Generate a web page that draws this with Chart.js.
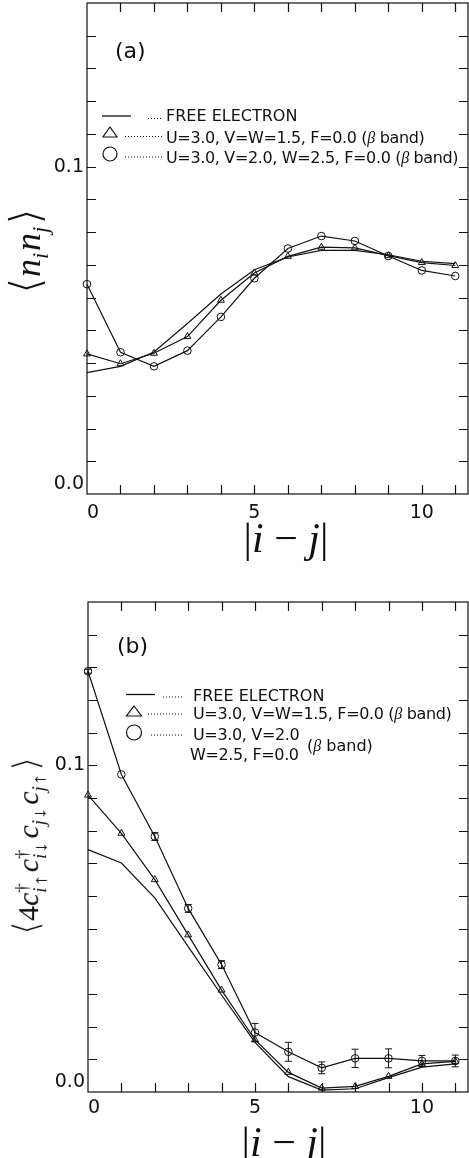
<!DOCTYPE html>
<html>
<head>
<meta charset="utf-8">
<script src="https://cdn.jsdelivr.net/npm/chart.js@4.4.1/dist/chart.umd.min.js"></script>
<style>
  html, body { margin: 0; padding: 0; background: #fff; }
  body { width: 469px; height: 1158px; position: relative; overflow: hidden;
         font-family: 'DejaVu Sans', sans-serif; color: #111; }
  .panel { position: absolute; left: 0; width: 469px; }
  .panel canvas { position: absolute; left: 0; top: 0; }
  .t { position: absolute; white-space: nowrap; font-size: 16px; line-height: 16px; }
  .eq { letter-spacing: -0.35px; }
  .tag { position: absolute; white-space: nowrap; font-size: 22px; line-height: 22px; }
  .mi { font-family: 'Liberation Serif', serif; font-style: italic; }
  .xt { position: absolute; transform: translate(-50%, -50%); white-space: nowrap;
        font-family: 'Liberation Serif', serif; font-size: 42px; line-height: 42px; }
  .xt i { font-style: italic; }
  .yt { position: absolute; transform: translate(-50%, -50%) rotate(-90deg); white-space: nowrap;
        font-family: 'Liberation Serif', serif; line-height: 1; }
  .yt i { font-style: italic; }
  .br { font-family: 'DejaVu Sans', sans-serif; font-size: 1.2em; font-weight: 200;
        -webkit-text-stroke: 1.2px #fff; paint-order: stroke fill; }
  .br { paint-order: normal; }
  .sub { font-size: 0.62em; vertical-align: -0.35em; padding-right: 0.08em; }
  .ss { display: inline-flex; flex-direction: column; align-items: flex-start;
        font-size: 0.62em; line-height: 1.0; vertical-align: middle; padding-right: 0.08em; }
  .ss > span { display: block; }
  .ar { display: inline-block; transform: scaleX(1.3); margin: 0 0.12em; }
</style>
</head>
<body>

<div class="panel" id="panelA" style="top:0;height:570px">
  <canvas id="chartA" width="469" height="570"></canvas>
  <div class="tag" style="left:115px;top:40px">(a)</div>
  <div class="t" style="left:166px;top:108px">FREE ELECTRON</div>
  <div class="t eq" style="left:166px;top:129.5px">U=3.0, V=W=1.5, F=0.0 (<span class="mi">β</span> band)</div>
  <div class="t eq" style="left:166px;top:150px">U=3.0, V=2.0, W=2.5, F=0.0 (<span class="mi">β</span> band)</div>
  <div class="xt" style="left:286px;top:538px">|<i>i</i> − <i>j</i>|</div>
  <div class="yt" style="left:28px;top:251px;font-size:36px"><span class="br">⟨</span><i>n</i><span class="sub"><i>i</i></span><i>n</i><span class="sub"><i>j</i></span><span class="br">⟩</span></div>
</div>

<div class="panel" id="panelB" style="top:570px;height:588px">
  <canvas id="chartB" width="469" height="588"></canvas>
  <div class="tag" style="left:117px;top:65px">(b)</div>
  <div class="t" style="left:193px;top:118px">FREE ELECTRON</div>
  <div class="t eq" style="left:193px;top:136px">U=3.0, V=W=1.5, F=0.0 (<span class="mi">β</span> band)</div>
  <div class="t eq" style="left:193px;top:156.5px">U=3.0, V=2.0</div>
  <div class="t eq" style="left:190px;top:176.5px">W=2.5, F=0.0</div>
  <div class="t" style="left:307px;top:168px">(<span class="mi">β</span> band)</div>
  <div class="xt" style="left:284px;top:572px">|<i>i</i> − <i>j</i>|</div>
  <div class="yt" style="left:29px;top:276px;font-size:30px"><span class="br">⟨</span>4<i>c</i><span class="ss"><span>†</span><span><i>i</i><span class="ar">↑</span></span></span><i>c</i><span class="ss"><span>†</span><span><i>i</i><span class="ar">↓</span></span></span><i>c</i><span class="sub"><i>j</i><span class="ar">↓</span></span><i>c</i><span class="sub"><i>j</i><span class="ar">↑</span></span><span class="br">⟩</span></div>
</div>

<script>
// Lattice separation |i - j|
const distance = [0, 1, 2, 3, 4, 5, 6, 7, 8, 9, 10, 11];

// (a) density-density correlation <n_i n_j>
const densFree   = [0.0371, 0.0390, 0.0434, 0.0521, 0.0611, 0.0685, 0.0724, 0.0744, 0.0744, 0.0731, 0.0711, 0.0704];
const densV15    = [0.0428, 0.0398, 0.0430, 0.0481, 0.0592, 0.0675, 0.0726, 0.0754, 0.0752, 0.0728, 0.0707, 0.0698];
const densV20W25 = [0.0641, 0.0433, 0.0390, 0.0438, 0.0541, 0.0659, 0.0750, 0.0788, 0.0773, 0.0727, 0.0683, 0.0666];

// (b) pair correlation <4 c+_{i up} c+_{i dn} c_{j dn} c_{j up}>
const pairFree    = [0.0742, 0.0701, 0.0594, 0.0445, 0.0297, 0.0152, 0.0047, 0.0006, 0.0010, 0.0044, 0.0076, 0.0086];
const pairV15     = [0.0909, 0.0792, 0.0650, 0.0481, 0.0312, 0.0160, 0.0060, 0.0012, 0.0017, 0.0048, 0.0086, 0.0094];
const pairV20W25  = [0.1288, 0.0972, 0.0782, 0.0562, 0.0390, 0.0182, 0.0123, 0.0074, 0.0103, 0.0103, 0.0095, 0.0095];
const pairV20W25Err = [0.0006, 0.0000, 0.0012, 0.0012, 0.0012, 0.0028, 0.0029, 0.0018, 0.0028, 0.0029, 0.0017, 0.0018];

// Labelled tick values
const xTickValues = [0, 5, 10];
const xTickText   = ['0', '5', '10'];
const yTickValues = [0, 0.1];
const yTickText   = ['0.0', '0.1'];

const INK = '#111';

// Closed frame with inward tick marks on all four sides
const frameTicks = {
  id: 'frameTicks',
  afterDatasetsDraw(chart) {
    const { ctx, chartArea: a, scales: { x, y } } = chart;
    const len = 9;
    ctx.save();
    ctx.strokeStyle = INK;
    ctx.lineWidth = 1.2;
    ctx.strokeRect(a.left, a.top, a.right - a.left, a.bottom - a.top);
    ctx.beginPath();
    x.ticks.forEach(t => {
      const px = Math.round(x.getPixelForValue(t.value)) + 0.5;
      if (px <= a.left + 1 || px >= a.right - 1) return;
      ctx.moveTo(px, a.bottom); ctx.lineTo(px, a.bottom - len);
      ctx.moveTo(px, a.top);    ctx.lineTo(px, a.top + len);
    });
    y.ticks.forEach(t => {
      const py = Math.round(y.getPixelForValue(t.value)) + 0.5;
      if (py <= a.top + 1 || py >= a.bottom - 1) return;
      ctx.moveTo(a.left, py);  ctx.lineTo(a.left + len, py);
      ctx.moveTo(a.right, py); ctx.lineTo(a.right - len, py);
    });
    ctx.stroke();
    ctx.restore();
  }
};

// Vertical error bars with caps for one dataset
const errorBars = {
  id: 'errorBars',
  afterDatasetsDraw(chart, args, opts) {
    if (!opts || !opts.errors) return;
    const { ctx, scales: { x, y } } = chart;
    const vals = chart.data.datasets[opts.dataset].data;
    ctx.save();
    ctx.strokeStyle = INK;
    ctx.lineWidth = 1;
    ctx.beginPath();
    vals.forEach((p, i) => {
      const e = opts.errors[i];
      if (!e) return;
      const px = x.getPixelForValue(p.x);
      const y1 = y.getPixelForValue(p.y - e);
      const y2 = y.getPixelForValue(p.y + e);
      ctx.moveTo(px, y1); ctx.lineTo(px, y2);
      ctx.moveTo(px - 3.5, y1); ctx.lineTo(px + 3.5, y1);
      ctx.moveTo(px - 3.5, y2); ctx.lineTo(px + 3.5, y2);
    });
    ctx.stroke();
    ctx.restore();
  }
};

// Key symbols: solid line, dotted leaders, open triangle, open circle
const legendKey = {
  id: 'legendKey',
  afterDraw(chart, args, opts) {
    if (!opts || !opts.items) return;
    const ctx = chart.ctx;
    ctx.save();
    ctx.strokeStyle = INK;
    opts.items.forEach(it => {
      ctx.beginPath();
      if (it.type === 'line') {
        ctx.lineWidth = 1.3; ctx.setLineDash([]);
        ctx.moveTo(it.x1, it.y); ctx.lineTo(it.x2, it.y);
      } else if (it.type === 'dots') {
        ctx.lineWidth = 1; ctx.setLineDash([1, 2]);
        ctx.moveTo(it.x1, it.y); ctx.lineTo(it.x2, it.y);
      } else if (it.type === 'tri') {
        ctx.lineWidth = 1.2; ctx.setLineDash([]);
        ctx.moveTo(it.x, it.y - it.h / 2);
        ctx.lineTo(it.x + it.w / 2, it.y + it.h / 2);
        ctx.lineTo(it.x - it.w / 2, it.y + it.h / 2);
        ctx.closePath();
      } else if (it.type === 'circ') {
        ctx.lineWidth = 1.2; ctx.setLineDash([]);
        ctx.arc(it.x, it.y, it.r, 0, Math.PI * 2);
      }
      ctx.stroke();
    });
    ctx.restore();
  }
};

function series(values, marker, radius) {
  return {
    data: distance.map((d, i) => ({ x: d, y: values[i] })),
    borderColor: INK,
    borderWidth: 1.2,
    tension: 0,
    fill: false,
    clip: false,
    pointStyle: marker || 'circle',
    pointRadius: marker ? radius : 0,
    pointBorderColor: INK,
    pointBorderWidth: 1,
    pointBackgroundColor: 'rgba(0,0,0,0)'
  };
}

// keep the plot frame exactly where the layout padding puts it
function noEdgePadding(s) {
  s.paddingLeft = 0; s.paddingRight = 0; s.paddingTop = 0; s.paddingBottom = 0;
}

function buildChart(id, cfg) {
  return new Chart(document.getElementById(id), {
    type: 'line',
    data: { datasets: cfg.datasets },
    options: {
      responsive: false,
      animation: false,
      events: [],
      layout: { padding: cfg.padding, autoPadding: false },
      plugins: {
        legend: { display: false },
        tooltip: { enabled: false },
        legendKey: { items: cfg.key },
        errorBars: cfg.errorBars || {}
      },
      scales: {
        x: {
          type: 'linear', min: 0, max: 11.38,
          afterFit: s => { s.height = cfg.xHeight; noEdgePadding(s); },
          grid: { display: false, drawTicks: false },
          border: { display: false },
          ticks: {
            stepSize: 1, autoSkip: false, includeBounds: false, maxRotation: 0,
            padding: cfg.xPad, color: INK,
            font: { family: 'DejaVu Sans', size: 19 },
            callback: v => {
              const k = xTickValues.indexOf(v);
              if (k < 0) return '';
              return v === 0 ? '  ' + xTickText[k] : xTickText[k];
            }
          }
        },
        y: {
          type: 'linear', min: 0, max: 0.15,
          afterFit: s => { s.width = cfg.yWidth; noEdgePadding(s); },
          grid: { display: false, drawTicks: false },
          border: { display: false },
          ticks: {
            stepSize: 0.01, autoSkip: false, padding: 3, color: INK,
            font: { family: 'DejaVu Sans', size: 19, lineHeight: 1.05 },
            callback: v => {
              const k = yTickValues.findIndex(t => Math.abs(t - v) < 1e-9);
              if (k < 0) return '';
              // the bottom label sits just above the corner
              return yTickValues[k] === 0 ? [yTickText[k], ''] : yTickText[k];
            }
          }
        }
      }
    },
    plugins: [frameTicks, errorBars, legendKey]
  });
}

buildChart('chartA', {
  padding: { top: 3, right: 1, left: 0, bottom: 0 },
  yWidth: 87, xHeight: 76, xPad: 8,
  datasets: [
    series(densFree),
    series(densV15, 'triangle', 4),
    series(densV20W25, 'circle', 3.8)
  ],
  key: [
    { type: 'line', x1: 102, x2: 131, y: 116 },
    { type: 'dots', x1: 148, x2: 162, y: 118.5 },
    { type: 'tri', x: 110, y: 132, w: 14, h: 10 },
    { type: 'dots', x1: 125, x2: 162, y: 136.5 },
    { type: 'circ', x: 110, y: 154, r: 7 },
    { type: 'dots', x1: 125, x2: 162, y: 157 }
  ]
});

buildChart('chartB', {
  padding: { top: 32, right: 1, left: 0, bottom: 0 },
  yWidth: 88, xHeight: 66, xPad: 5,
  datasets: [
    series(pairFree),
    series(pairV15, 'triangle', 4),
    series(pairV20W25, 'circle', 3.8)
  ],
  errorBars: { dataset: 2, errors: pairV20W25Err },
  key: [
    { type: 'line', x1: 126, x2: 155, y: 124.5 },
    { type: 'dots', x1: 163, x2: 184, y: 127 },
    { type: 'tri', x: 134, y: 141, w: 15, h: 10 },
    { type: 'dots', x1: 148, x2: 184, y: 144 },
    { type: 'circ', x: 134, y: 162.5, r: 7.5 },
    { type: 'dots', x1: 151, x2: 184, y: 165 }
  ]
});
</script>
</body>
</html>
